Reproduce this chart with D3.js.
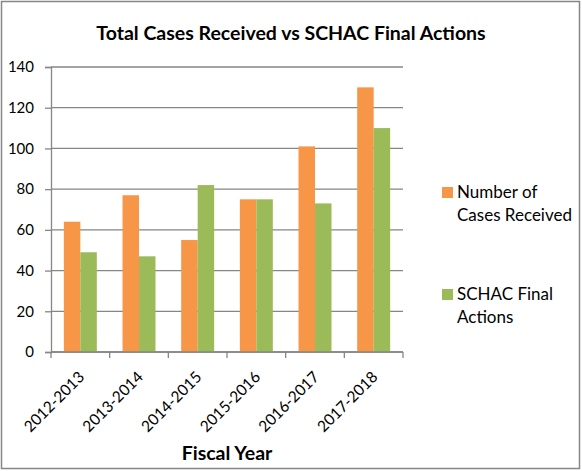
<!DOCTYPE html>
<html>
<head>
<meta charset="utf-8">
<script src="https://d3js.org/d3.v7.min.js"></script>
<style>
  body { margin: 0; background: #fff; }
  svg text { font-family: Lato, "Open Sans", sans-serif; fill: #000; }
</style>
</head>
<body>
<svg class="chart" width="582" height="471"></svg>
<script>
var years = ["2012-2013", "2013-2014", "2014-2015", "2015-2016", "2016-2017", "2017-2018"];
var received = [64, 77, 55, 75, 101, 130];
var finalActions = [49, 47, 82, 75, 73, 110];
var seriesNames = ["Number of|Cases Received", "SCHAC Final|Actions"];
var colors = ["#F79646", "#9BBB59"];
var yTicks = [0, 20, 40, 60, 80, 100, 120, 140];

var svg = d3.select(".chart"),
    margin = {top: 67, right: 179, bottom: 119, left: 51},
    width = +svg.attr("width") - margin.left - margin.right,
    height = +svg.attr("height") - margin.top - margin.bottom;

// outer frame
svg.append("rect")
    .attr("x", 1.5).attr("y", 1.5)
    .attr("width", 578).attr("height", 467)
    .attr("fill", "#fff")
    .attr("stroke", "#868686")
    .attr("stroke-width", 1.5);

var g = svg.append("g").attr("transform", "translate(" + margin.left + "," + margin.top + ")");

var x0 = d3.scaleBand().domain(years).range([0, width]).paddingInner(0).paddingOuter(0);
var x1 = d3.scaleBand().domain([0, 1]).range([0, x0.bandwidth()]).paddingOuter(0.78).paddingInner(0);
var y = d3.scaleLinear().domain([0, 140]).range([height, 0]);

// gridlines
g.append("g")
    .selectAll("line")
    .data(yTicks)
    .enter().append("line")
    .attr("x1", 0).attr("x2", width)
    .attr("y1", function(d) { return y(d); })
    .attr("y2", function(d) { return y(d); })
    .attr("stroke", "#868686")
    .attr("stroke-width", 1.3);

var data = years.map(function(yr, i) { return {year: yr, vals: [received[i], finalActions[i]]}; });

var groups = g.selectAll(".grp")
    .data(data)
    .enter().append("g")
    .attr("transform", function(d) { return "translate(" + x0(d.year) + ",0)"; });

groups.selectAll("rect")
    .data(function(d) { return d.vals.map(function(v, k) { return {k: k, v: v}; }); })
    .enter().append("rect")
    .attr("x", function(d) { return x1(d.k); })
    .attr("width", x1.bandwidth())
    .attr("y", function(d) { return y(d.v); })
    .attr("height", function(d) { return height - y(d.v); })
    .attr("fill", function(d) { return colors[d.k]; });

// y axis
var yAxis = g.append("g")
    .call(d3.axisLeft(y).tickValues(yTicks).tickSize(6).tickPadding(11));
yAxis.select(".domain").attr("stroke", "#868686").attr("stroke-width", 1.3);
yAxis.selectAll(".tick line").attr("stroke", "#868686").attr("stroke-width", 1.3);
yAxis.selectAll("text").style("font-size", "15px").attr("fill", "#000");

// x axis with ticks at band edges
var xAxis = g.append("g").attr("transform", "translate(0," + height + ")");
xAxis.append("line")
    .attr("x1", 0).attr("x2", width)
    .attr("stroke", "#868686").attr("stroke-width", 1.3);
xAxis.selectAll(".edge")
    .data(years.concat(["end"]))
    .enter().append("line")
    .attr("x1", function(d, i) { return i * x0.step(); })
    .attr("x2", function(d, i) { return i * x0.step(); })
    .attr("y1", 0).attr("y2", 6)
    .attr("stroke", "#868686").attr("stroke-width", 1.3);
xAxis.selectAll(".lbl")
    .data(years)
    .enter().append("text")
    .attr("transform", function(d) {
      return "translate(" + (x0(d) + x0.bandwidth() / 2 + 5) + ",26) rotate(-45)";
    })
    .attr("text-anchor", "end")
    .style("font-size", "15.5px")
    .text(function(d) { return d; });

// title
svg.append("text")
    .attr("x", 291).attr("y", 40)
    .attr("text-anchor", "middle")
    .style("font-size", "19.5px")
    .style("font-weight", "bold")
    .text("Total Cases Received vs SCHAC Final Actions");

// x axis title
svg.append("text")
    .attr("x", margin.left + width / 2).attr("y", 460)
    .attr("text-anchor", "middle")
    .style("font-size", "19.5px")
    .style("font-weight", "bold")
    .text("Fiscal Year");

// legend
var legend = svg.append("g").attr("transform", "translate(442,187)");
var item = legend.selectAll(".item")
    .data(seriesNames)
    .enter().append("g")
    .attr("transform", function(d, i) { return "translate(0," + (i * 102) + ")"; });
item.append("rect")
    .attr("width", 11).attr("height", 11)
    .attr("fill", function(d, i) { return colors[i]; });
item.append("text")
    .attr("x", 15).attr("y", 11)
    .style("font-size", "17px")
    .selectAll("tspan")
    .data(function(d) { return d.split("|"); })
    .enter().append("tspan")
    .attr("x", 15)
    .attr("dy", function(d, i) { return i === 0 ? 0 : 23; })
    .text(function(d) { return d; });
</script>
</body>
</html>
